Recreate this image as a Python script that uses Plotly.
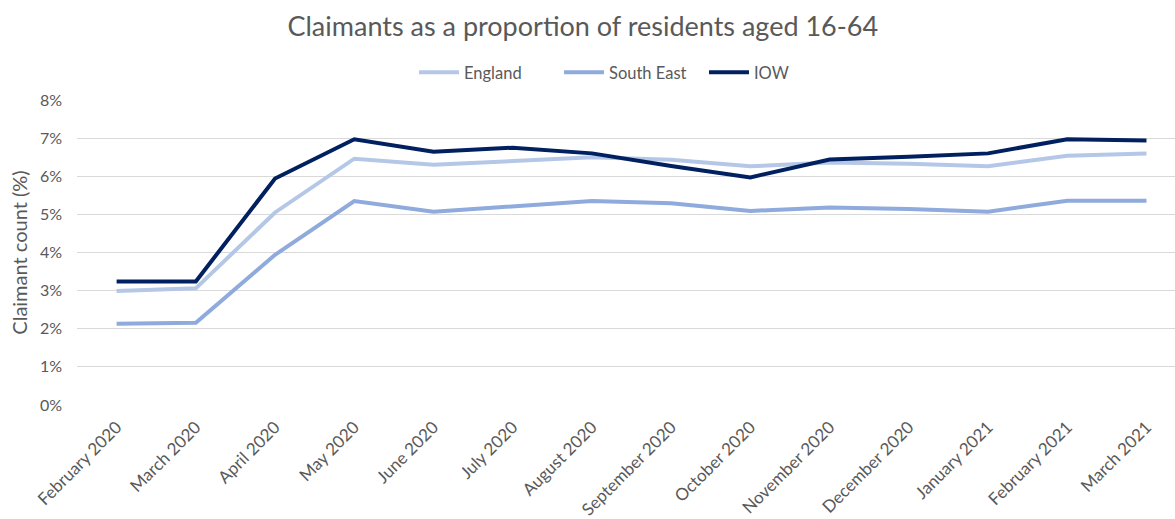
import plotly.graph_objects as go

months = [
    "February 2020", "March 2020", "April 2020", "May 2020", "June 2020",
    "July 2020", "August 2020", "September 2020", "October 2020",
    "November 2020", "December 2020", "January 2021", "February 2021",
    "March 2021",
]

england = [2.99, 3.06, 5.05, 6.46, 6.30, 6.39, 6.50, 6.43, 6.26, 6.36, 6.33, 6.26, 6.54, 6.60]
south_east = [2.13, 2.16, 3.94, 5.35, 5.07, 5.20, 5.35, 5.29, 5.09, 5.18, 5.14, 5.07, 5.36, 5.36]
iow = [3.24, 3.24, 5.94, 6.97, 6.64, 6.75, 6.60, 6.27, 5.97, 6.44, 6.51, 6.60, 6.97, 6.94]

y_ticks = [0, 1, 2, 3, 4, 5, 6, 7, 8]
y_tick_text = [f"{v}%" for v in y_ticks]

FONT = "Lato, 'Open Sans', sans-serif"
GREY = "#595959"

series = [
    ("England", england, "#b4c7e7"),
    ("South East", south_east, "#8faadc"),
    ("IOW", iow, "#002060"),
]

fig = go.Figure()
for name, vals, color in series:
    fig.add_trace(go.Scatter(
        x=months, y=vals, name=name, mode="lines",
        line=dict(color=color, width=4),
    ))

fig.update_layout(
    width=1175, height=519,
    margin=dict(l=77, r=0, t=100, b=114),
    paper_bgcolor="white", plot_bgcolor="white",
    font=dict(family=FONT, color=GREY, size=16),
    title=dict(
        text="Claimants as a proportion of residents aged 16-64",
        x=0.496, xanchor="center", y=0.948, yanchor="middle",
        yref="container",
        font=dict(size=27, color=GREY, family=FONT),
    ),
    legend=dict(
        orientation="h", x=0.505, xanchor="center", y=1.09, yanchor="middle",
        font=dict(size=16.5, color=GREY), itemwidth=40,
        entrywidth=90, entrywidthmode="pixels",
        bgcolor="rgba(0,0,0,0)",
    ),
    showlegend=True,
)

fig.update_xaxes(
    type="category", range=[-0.5, 13.36],
    tickangle=-45, showgrid=False, showline=False, ticks="",
    ticklabelstandoff=8,
    tickfont=dict(size=17, color=GREY),
)
fig.update_yaxes(
    range=[0, 8], tickvals=y_ticks, ticktext=y_tick_text,
    showgrid=True, gridcolor="#d9d9d9", gridwidth=1,
    zeroline=False, showline=False, ticks="",
    ticklabelstandoff=14,
    tickfont=dict(size=16, color=GREY),
    title=dict(text="Claimant count (%)", font=dict(size=20, color=GREY), standoff=6),
)

fig.write_html("out.html")
